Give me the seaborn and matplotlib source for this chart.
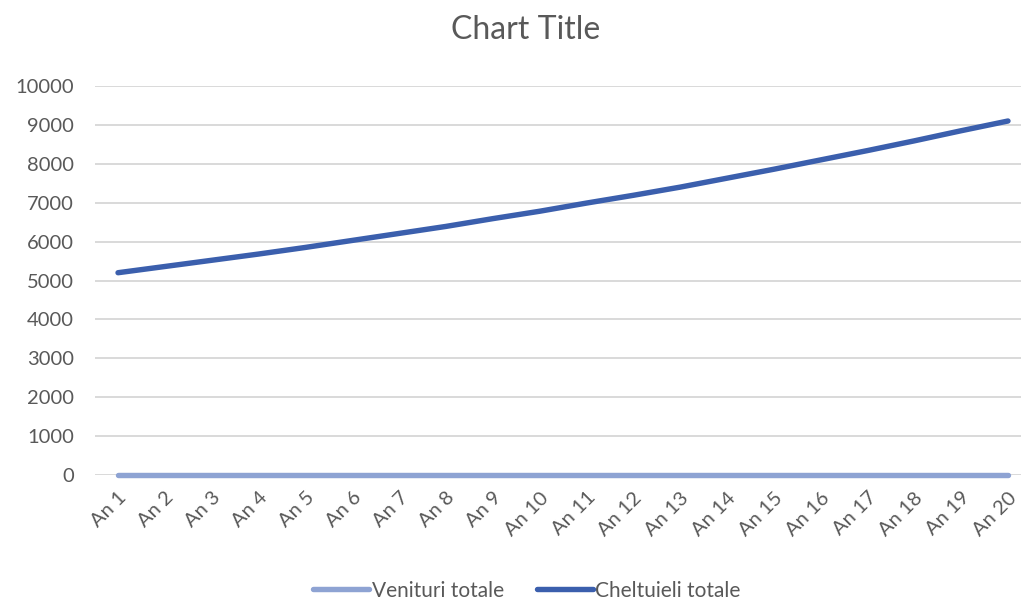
import matplotlib
matplotlib.use("Agg")
import matplotlib.pyplot as plt
import seaborn as sns
import pandas as pd

# Categories and series values
years = [f"An {i}" for i in range(1, 21)]
venituri = [0] * 20
cheltuieli = [5200, 5360, 5520, 5680, 5850, 6030, 6210, 6390, 6590, 6780,
              6990, 7190, 7400, 7630, 7860, 8100, 8340, 8590, 8850, 9100]
series_names = ["Venituri totale", "Cheltuieli totale"]
y_ticks = list(range(0, 10001, 1000))

df = pd.DataFrame({
    "An": years * 2,
    "Valoare": venituri + cheltuieli,
    "Serie": [series_names[0]] * 20 + [series_names[1]] * 20,
})

sns.set_theme(style="white")
plt.rcParams["font.family"] = ["Lato", "DejaVu Sans"]

text_color = "#595959"
grid_color = "#D9D9D9"
palette = {series_names[0]: "#8EA3D3", series_names[1]: "#3B5FAD"}

fig = plt.figure(figsize=(10.21, 6.06), dpi=100)
ax = fig.add_axes([94.6 / 1021, 1 - 475 / 606, 936.8 / 1021, 389 / 606])

sns.lineplot(data=df, x="An", y="Valoare", hue="Serie", palette=palette,
             linewidth=3.9, sort=False, ax=ax, solid_capstyle="round")
for line in ax.lines:
    line.set_clip_on(False)
    line.set_zorder(3)

ax.set_xlim(-0.5, 19.5)
ax.set_ylim(0, 10000)
ax.set_yticks(y_ticks)
ax.set_yticklabels([str(v) for v in y_ticks])
ax.grid(axis="y", color=grid_color, linewidth=1.4)
ax.set_axisbelow(True)
for s in ax.spines.values():
    s.set_visible(False)

ax.tick_params(axis="y", length=0, pad=15, labelsize=14.5, labelcolor=text_color)
ax.tick_params(axis="x", length=0, pad=10, labelsize=14.5, labelcolor=text_color)
for lab in ax.get_xticklabels():
    lab.set_rotation(45)
    lab.set_ha("right")
    lab.set_rotation_mode("anchor")

ax.set_xlabel("")
ax.set_ylabel("")

fig.text(526 / 1021, 1 - 30 / 606, "Chart Title", ha="center", va="center",
         fontsize=23, color=text_color)

sns.move_legend(ax, "lower center", bbox_to_anchor=(527 / 1021, -0.022),
                bbox_transform=fig.transFigure, ncol=2, frameon=False,
                title=None, fontsize=15, handlelength=2.7,
                handletextpad=0.1, columnspacing=1.6, labelcolor=text_color)

fig.savefig("out.png", dpi=100)
